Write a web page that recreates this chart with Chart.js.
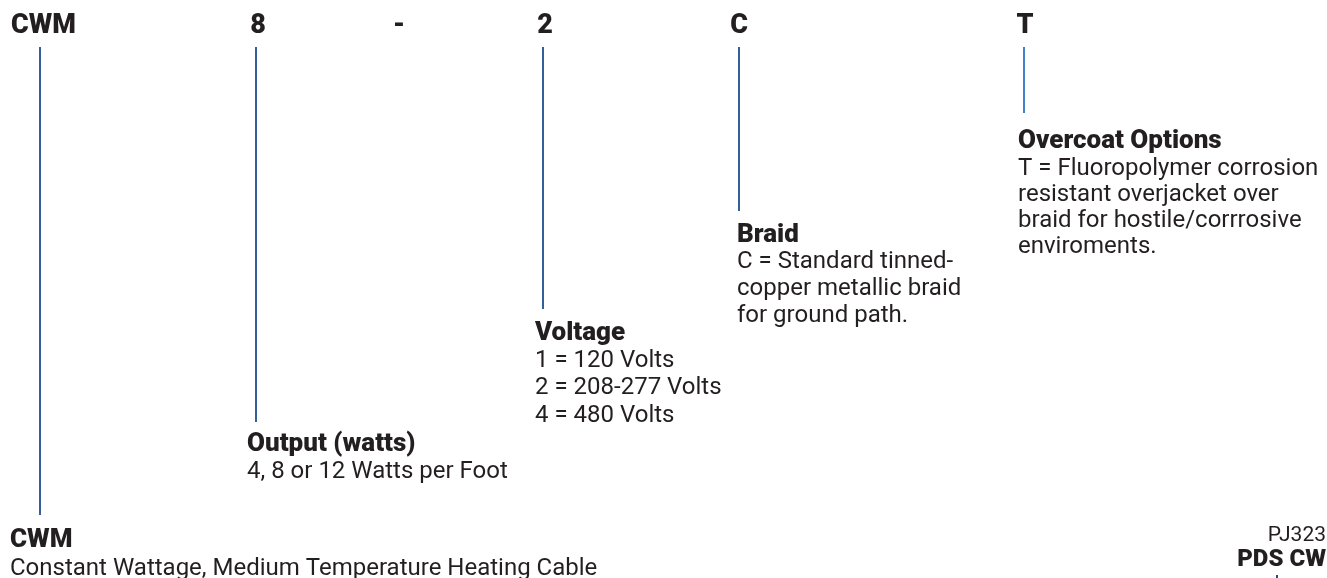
<!DOCTYPE html>
<html><head><meta charset="utf-8">
<script src="https://cdn.jsdelivr.net/npm/chart.js@4"></script>
<style>html,body{margin:0;padding:0;background:#fff;overflow:hidden}#wrap{width:1327px;height:578px}</style>
</head><body><div id="wrap"><canvas id="c" width="1327" height="578"></canvas></div>
<script>
// ---- content ----
const codes = ['CWM', '8', '-', '2', 'C', 'T'];
const fields = ['CWM', 'Output (watts)', 'Voltage', 'Braid', 'Overcoat Options'];
const fieldNotes = [
  ['Constant Wattage, Medium Temperature Heating Cable'],
  ['4, 8 or 12 Watts per Foot'],
  ['1 = 120 Volts', '2 = 208-277 Volts', '4 = 480 Volts'],
  ['C = Standard tinned-', 'copper metallic braid', 'for ground path.'],
  ['T = Fluoropolymer corrosion', 'resistant overjacket over', 'braid for hostile/corrrosive', 'enviroments.']
];
const footer = ['PJ323', 'PDS CW'];

// ---- diagram coordinates (chart units = px of a 1327 x 578 plane) ----
const codeX = [43.5, 258, 399, 545, 739, 1025];
const codeY = 33;
const leaderX = [40, 256, 543, 739, 1024];
const leaderTop = 47;
const leaderBottom = [515, 422, 309, 211, 113];
const fieldLabelX = [10, 247, 535, 737, 1018];
const fieldTitleY = [547, 451, 340, 242, 148];
const fieldNoteY = [[575], [478], [367, 394, 422], [268, 295, 322], [175, 201, 227, 253]];
const footerX = 1326;
const footerY = [541, 566];
const footerMark = [{x: 1277, y: 575}, {x: 1277, y: 579}];

const INK = '#231f20';
const NAVY = '#1d4f8d';
const BLUE = '#2b77c6';
const FONT = "Roboto, 'Liberation Sans', sans-serif";

const datasets = leaderX.map((x, i) => ({
  data: [{x: x, y: leaderTop}, {x: x, y: leaderBottom[i]}],
  showLine: true,
  borderColor: i === leaderX.length - 1 ? BLUE : NAVY,
  borderWidth: 1.8,
  pointRadius: 0,
  fill: false
}));
datasets.push({data: footerMark, showLine: true, borderColor: NAVY, borderWidth: 2, pointRadius: 0});

const textPlugin = {
  id: 'codeText',
  afterDatasetsDraw(chart) {
    const ctx = chart.ctx;
    const xs = chart.scales.x, ys = chart.scales.y;
    ctx.save();
    ctx.fillStyle = INK;
    ctx.textBaseline = 'alphabetic';
    // code row
    ctx.font = "900 27px " + FONT;
    ctx.textAlign = 'center';
    codes.forEach((c, i) => ctx.fillText(c, xs.getPixelForValue(codeX[i]), ys.getPixelForValue(codeY)));
    // fields
    ctx.textAlign = 'left';
    fields.forEach((f, i) => {
      const x = xs.getPixelForValue(fieldLabelX[i]);
      ctx.font = "900 26px " + FONT;
      ctx.fillText(f, x, ys.getPixelForValue(fieldTitleY[i]));
      ctx.font = "24px " + FONT;
      fieldNotes[i].forEach((t, j) => ctx.fillText(t, x, ys.getPixelForValue(fieldNoteY[i][j])));
    });
    // footer
    ctx.textAlign = 'right';
    ctx.font = "21px " + FONT;
    ctx.fillText(footer[0], xs.getPixelForValue(footerX), ys.getPixelForValue(footerY[0]));
    ctx.font = "900 24px " + FONT;
    ctx.fillText(footer[1], xs.getPixelForValue(footerX), ys.getPixelForValue(footerY[1]));
    ctx.restore();
  }
};

new Chart(document.getElementById('c'), {
  type: 'scatter',
  data: {datasets: datasets},
  options: {
    responsive: false,
    animation: false,
    layout: {padding: 0},
    plugins: {legend: {display: false}, tooltip: {enabled: false}},
    scales: {
      x: {type: 'linear', min: 0, max: 1327, display: false},
      y: {type: 'linear', min: 0, max: 578, reverse: true, display: false}
    }
  },
  plugins: [textPlugin]
});
</script>
</body></html>
